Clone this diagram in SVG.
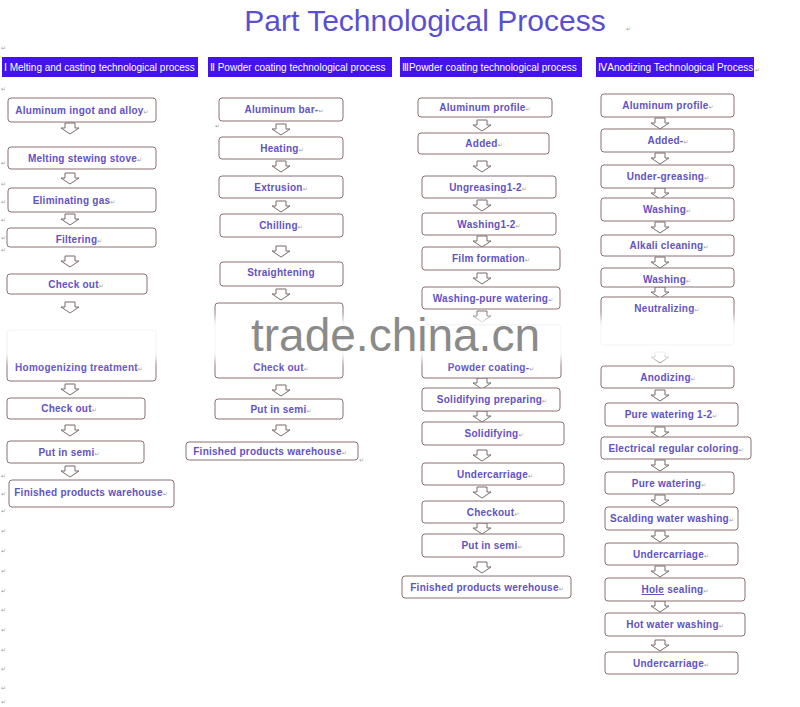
<svg xmlns="http://www.w3.org/2000/svg" width="800" height="707" viewBox="0 0 800 707">
<style>
.box{fill:#fff;stroke:#8c6f70;stroke-width:1}
.lbl{font-family:"Liberation Sans",Arial,sans-serif;font-size:10px;font-weight:bold;fill:#6352c2;text-anchor:middle;letter-spacing:0.25px}
.pm{font-family:"DejaVu Sans",sans-serif;font-size:6px;fill:#a0a0a0;font-weight:normal;letter-spacing:0}
.arr{fill:#fff;stroke:#7b6b6b;stroke-width:1}
.bar{fill:#4312ee}
.hdr{font-family:"Liberation Sans","DejaVu Sans",sans-serif;font-size:10px;fill:#fff}
.title{font-family:"Liberation Sans",Arial,sans-serif;font-size:30px;fill:#5a4fd0}
</style>
<defs>
<path id="ar" class="arr" d="M-5,0 H5 V5 H9 L0,11 L-9,5 H-5 Z"/>
<filter id="bl" x="-5%" y="-50%" width="110%" height="200%"><feGaussianBlur stdDeviation="4"/></filter>
</defs>
<rect width="800" height="707" fill="#fff"/>
<text class="title" x="425" y="31" text-anchor="middle">Part Technological Process</text>
<text class="pm" x="626" y="31">↵</text>

<g id="headers">
<rect class="bar" x="2" y="57" width="196" height="20"/>
<text class="hdr" x="4" y="71">Ⅰ Melting and casting technological process</text>
<rect class="bar" x="208" y="57" width="184" height="20"/>
<text class="hdr" x="210" y="71">Ⅱ  Powder coating technological process</text>
<rect class="bar" x="400" y="57" width="182" height="20"/>
<text class="hdr" x="402" y="71">ⅢPowder coating technological process</text>
<rect class="bar" x="596" y="57" width="158" height="20"/>
<text class="hdr" x="598" y="71">ⅣAnodizing Technological Process</text>
<text class="pm" x="755" y="72">↵</text>
</g>

<g id="margin" class="pm">
<text x="1" y="50">↵</text><text x="1" y="91">↵</text><text x="1" y="165">↵</text><text x="1" y="186">↵</text>
<text x="1" y="204">↵</text><text x="1" y="222">↵</text><text x="1" y="240">↵</text><text x="1" y="252">↵</text>
<text x="1" y="478">↵</text><text x="1" y="496">↵</text><text x="1" y="513">↵</text><text x="1" y="533">↵</text>
<text x="1" y="553">↵</text><text x="1" y="573">↵</text><text x="1" y="593">↵</text><text x="1" y="612">↵</text>
<text x="1" y="632">↵</text><text x="1" y="652">↵</text><text x="1" y="671">↵</text><text x="1" y="690">↵</text><text x="1" y="704">↵</text>
<text x="215" y="128">↵</text><text x="359" y="462">↵</text><text x="16" y="506">↵</text>
</g>

<g id="connectors">
<use href="#ar" x="70" y="123"/><use href="#ar" x="70" y="173"/><use href="#ar" x="70" y="214"/><use href="#ar" x="70" y="256"/>
<use href="#ar" x="70" y="302"/><use href="#ar" x="70" y="384"/><use href="#ar" x="70" y="425"/><use href="#ar" x="70" y="466"/>
<use href="#ar" x="281" y="124"/><use href="#ar" x="281" y="161"/><use href="#ar" x="281" y="201"/><use href="#ar" x="281" y="246"/>
<use href="#ar" x="281" y="289"/><use href="#ar" x="281" y="385"/><use href="#ar" x="281" y="425"/>
<use href="#ar" x="482" y="120"/><use href="#ar" x="482" y="161"/><use href="#ar" x="482" y="200"/><use href="#ar" x="482" y="236"/>
<use href="#ar" x="482" y="273"/><use href="#ar" x="482" y="311"/><use href="#ar" x="482" y="378"/><use href="#ar" x="482" y="411"/>
<use href="#ar" x="482" y="450"/><use href="#ar" x="482" y="487"/><use href="#ar" x="482" y="523"/><use href="#ar" x="482" y="562"/>
<use href="#ar" x="660" y="118"/><use href="#ar" x="660" y="153"/><use href="#ar" x="660" y="188"/><use href="#ar" x="660" y="222"/>
<use href="#ar" x="660" y="257"/><use href="#ar" x="660" y="287"/><use href="#ar" x="660" y="352"/><use href="#ar" x="660" y="390"/>
<use href="#ar" x="660" y="427"/><use href="#ar" x="660" y="460"/><use href="#ar" x="660" y="495"/><use href="#ar" x="660" y="531"/>
<use href="#ar" x="660" y="566"/><use href="#ar" x="660" y="601"/><use href="#ar" x="660" y="640"/>
</g>

<g id="c1n1"><rect class="box" x="8" y="98" width="148" height="24" rx="3"/><text class="lbl" x="82" y="113.5">Aluminum ingot and alloy<tspan class="pm">↵</tspan></text></g>
<g id="c1n2"><rect class="box" x="8" y="147" width="148" height="22" rx="3"/><text class="lbl" x="85" y="161.5">Melting stewing stove<tspan class="pm">↵</tspan></text></g>
<g id="c1n3"><rect class="box" x="8" y="188" width="148" height="24" rx="3"/><text class="lbl" x="74" y="203.5">Eliminating gas<tspan class="pm">↵</tspan></text></g>
<g id="c1n4"><rect class="box" x="7" y="228" width="149" height="19" rx="3"/><text class="lbl" x="79" y="243">Filtering<tspan class="pm">↵</tspan></text></g>
<g id="c1n5"><rect class="box" x="7" y="274" width="140" height="20" rx="3"/><text class="lbl" x="76" y="288">Check out<tspan class="pm">↵</tspan></text></g>
<g id="c1n6"><rect class="box" x="7" y="330" width="149" height="51" rx="3"/><text class="lbl" x="79" y="371">Homogenizing treatment<tspan class="pm">↵</tspan></text></g>
<g id="c1n7"><rect class="box" x="7" y="398" width="138" height="21" rx="3"/><text class="lbl" x="69" y="412">Check out<tspan class="pm">↵</tspan></text></g>
<g id="c1n8"><rect class="box" x="7" y="441" width="137" height="22" rx="3"/><text class="lbl" x="69" y="455.5">Put in semi<tspan class="pm">↵</tspan></text></g>
<g id="c1n9"><rect class="box" x="9" y="480" width="165" height="27" rx="3"/><text class="lbl" x="91" y="495.5">Finished products warehouse<tspan class="pm">↵</tspan></text></g>

<g id="c2n1"><rect class="box" x="219" y="98" width="124" height="23" rx="3"/><text class="lbl" x="284" y="112.5">Aluminum bar-<tspan class="pm">↵</tspan></text></g>
<g id="c2n2"><rect class="box" x="219" y="137" width="124" height="22" rx="3"/><text class="lbl" x="282" y="151.5">Heating<tspan class="pm">↵</tspan></text></g>
<g id="c2n3"><rect class="box" x="219" y="176" width="124" height="22" rx="3"/><text class="lbl" x="281" y="190.5">Extrusion<tspan class="pm">↵</tspan></text></g>
<g id="c2n4"><rect class="box" x="220" y="214" width="123" height="23" rx="3"/><text class="lbl" x="281" y="229">Chilling<tspan class="pm">↵</tspan></text></g>
<g id="c2n5"><rect class="box" x="220" y="262" width="123" height="24" rx="3"/><text class="lbl" x="281" y="276">Straightening</text></g>
<g id="c2n6"><rect class="box" x="215" y="303" width="128" height="75" rx="3"/><text class="lbl" x="281" y="371">Check out<tspan class="pm">↵</tspan></text></g>
<g id="c2n7"><rect class="box" x="215" y="399" width="128" height="20" rx="3"/><text class="lbl" x="281" y="413">Put in semi<tspan class="pm">↵</tspan></text></g>
<g id="c2n8"><rect class="box" x="186" y="442" width="172" height="18" rx="3"/><text class="lbl" x="270" y="455">Finished products warehouse<tspan class="pm">↵</tspan></text></g>

<g id="c3n1"><rect class="box" x="418" y="98" width="134" height="19" rx="3"/><text class="lbl" x="485" y="111">Aluminum profile<tspan class="pm">↵</tspan></text></g>
<g id="c3n2"><rect class="box" x="418" y="133" width="131" height="21" rx="3"/><text class="lbl" x="484" y="147">Added<tspan class="pm">↵</tspan></text></g>
<g id="c3n3"><rect class="box" x="422" y="176" width="134" height="22" rx="3"/><text class="lbl" x="488" y="190.5">Ungreasing1-2<tspan class="pm">↵</tspan></text></g>
<g id="c3n4"><rect class="box" x="422" y="213" width="134" height="22" rx="3"/><text class="lbl" x="489" y="227.5">Washing1-2<tspan class="pm">↵</tspan></text></g>
<g id="c3n5"><rect class="box" x="422" y="247" width="138" height="23" rx="3"/><text class="lbl" x="491" y="262">Film formation<tspan class="pm">↵</tspan></text></g>
<g id="c3n6"><rect class="box" x="422" y="287" width="138" height="22" rx="3"/><text class="lbl" x="493" y="301.5">Washing-pure watering<tspan class="pm">↵</tspan></text></g>
<g id="c3n7"><rect class="box" x="422" y="325" width="139" height="53" rx="3"/><text class="lbl" x="491" y="371">Powder coating-<tspan class="pm">↵</tspan></text></g>
<g id="c3n8"><rect class="box" x="422" y="388" width="138" height="23" rx="3"/><text class="lbl" x="492" y="403">Solidifying preparing<tspan class="pm">↵</tspan></text></g>
<g id="c3n9"><rect class="box" x="422" y="422" width="142" height="23" rx="3"/><text class="lbl" x="494" y="437">Solidifying<tspan class="pm">↵</tspan></text></g>
<g id="c3n10"><rect class="box" x="422" y="463" width="142" height="22" rx="3"/><text class="lbl" x="495" y="477.5">Undercarriage<tspan class="pm">↵</tspan></text></g>
<g id="c3n11"><rect class="box" x="422" y="501" width="142" height="22" rx="3"/><text class="lbl" x="493" y="515.5">Checkout<tspan class="pm">↵</tspan></text></g>
<g id="c3n12"><rect class="box" x="422" y="534" width="142" height="23" rx="3"/><text class="lbl" x="492" y="549">Put in semi<tspan class="pm">↵</tspan></text></g>
<g id="c3n13"><rect class="box" x="402" y="576" width="169" height="22" rx="3"/><text class="lbl" x="487" y="590.5">Finished products werehouse<tspan class="pm">↵</tspan></text></g>

<g id="c4n1"><rect class="box" x="601" y="94" width="133" height="23" rx="3"/><text class="lbl" x="668" y="108.5">Aluminum profile<tspan class="pm">↵</tspan></text></g>
<g id="c4n2"><rect class="box" x="601" y="129" width="133" height="23" rx="3"/><text class="lbl" x="668" y="144">Added-<tspan class="pm">↵</tspan></text></g>
<g id="c4n3"><rect class="box" x="601" y="165" width="133" height="23" rx="3"/><text class="lbl" x="668" y="180">Under-greasing<tspan class="pm">↵</tspan></text></g>
<g id="c4n4"><rect class="box" x="601" y="198" width="133" height="23" rx="3"/><text class="lbl" x="667" y="213">Washing<tspan class="pm">↵</tspan></text></g>
<g id="c4n5"><rect class="box" x="601" y="235" width="133" height="21" rx="3"/><text class="lbl" x="669" y="249">Alkali cleaning<tspan class="pm">↵</tspan></text></g>
<g id="c4n6"><rect class="box" x="601" y="268" width="133" height="19" rx="3"/><text class="lbl" x="667" y="282.5">Washing<tspan class="pm">↵</tspan></text></g>
<g id="c4n7"><rect class="box" x="601" y="297" width="133" height="48" rx="3"/><text class="lbl" x="667" y="312">Neutralizing<tspan class="pm">↵</tspan></text></g>
<g id="c4n8"><rect class="box" x="601" y="366" width="133" height="22" rx="3"/><text class="lbl" x="668" y="380.5">Anodizing<tspan class="pm">↵</tspan></text></g>
<g id="c4n9"><rect class="box" x="605" y="403" width="133" height="23" rx="3"/><text class="lbl" x="671" y="418">Pure watering 1-2<tspan class="pm">↵</tspan></text></g>
<g id="c4n10"><rect class="box" x="601" y="437" width="150" height="22" rx="3"/><text class="lbl" x="676" y="451.5">Electrical regular coloring<tspan class="pm">↵</tspan></text></g>
<g id="c4n11"><rect class="box" x="605" y="472" width="129" height="22" rx="3"/><text class="lbl" x="669" y="486.5">Pure watering<tspan class="pm">↵</tspan></text></g>
<g id="c4n12"><rect class="box" x="605" y="507" width="133" height="23" rx="3"/><text class="lbl" x="672" y="522">Scalding water washing<tspan class="pm">↵</tspan></text></g>
<g id="c4n13"><rect class="box" x="605" y="543" width="133" height="22" rx="3"/><text class="lbl" x="671" y="557.5">Undercarriage<tspan class="pm">↵</tspan></text></g>
<g id="c4n14"><rect class="box" x="605" y="578" width="140" height="23" rx="3"/><text class="lbl" x="675" y="593"><tspan text-decoration="underline">Hole</tspan> sealing<tspan class="pm">↵</tspan></text></g>
<g id="c4n15"><rect class="box" x="605" y="613" width="140" height="23" rx="3"/><text class="lbl" x="675" y="628">Hot water washing<tspan class="pm">↵</tspan></text></g>
<g id="c4n16"><rect class="box" x="605" y="652" width="133" height="22" rx="3"/><text class="lbl" x="671" y="666.5">Undercarriage<tspan class="pm">↵</tspan></text></g>

<g id="watermark">
<rect x="0" y="318" width="770" height="42" fill="#fff" opacity="0.93" filter="url(#bl)"/>
<text x="251" y="351" font-family="Liberation Sans,Arial,sans-serif" font-size="46" fill="#8a8a8a">trade.china.cn</text>
</g>
</svg>
